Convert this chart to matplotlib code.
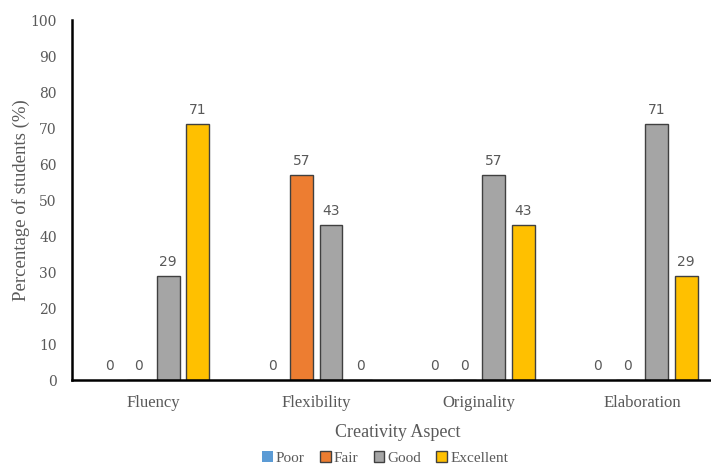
import matplotlib
matplotlib.use("Agg")
import matplotlib.pyplot as plt
import numpy as np

categories = ["Fluency", "Flexibility", "Originality", "Elaboration"]
series_names = ["Poor", "Fair", "Good", "Excellent"]
poor = [0, 0, 0, 0]
fair = [0, 57, 0, 0]
good = [29, 43, 57, 71]
excellent = [71, 0, 43, 29]
yticks = [0, 10, 20, 30, 40, 50, 60, 70, 80, 90, 100]

colors = ["#5B9BD5", "#ED7D31", "#A5A5A5", "#FFC000"]
edges = ["none", "#404040", "#404040", "#404040"]
txt = "#595959"

fig = plt.figure(figsize=(7.11, 4.66), dpi=100)
ax = fig.add_axes([72/711, 86/466, 651.4/711, 360/466])

x = np.arange(len(categories))
slot = 0.181
width = 0.141
for j, (name, vals) in enumerate(zip(series_names, [poor, fair, good, excellent])):
    pos = x + (j - 1.5) * slot
    ax.bar(pos, vals, width=width, color=colors[j],
           edgecolor=edges[j], linewidth=1.0, label=name, zorder=2)
    for p, v in zip(pos, vals):
        ax.annotate(f"{v}", (p, v), xytext=(0, 5), textcoords="offset points",
                    ha="center", va="bottom", fontsize=10, color=txt,
                    family="DejaVu Sans")

ax.set_xlim(-0.5, 3.5)
ax.set_ylim(0, 100)
ax.set_yticks(yticks)
ax.set_xticks(x)
ax.set_xticklabels(categories, family="Liberation Serif", fontsize=12, color=txt)
ax.tick_params(axis="both", length=0, colors=txt)
for lbl in ax.get_yticklabels():
    lbl.set_family("DejaVu Serif")
    lbl.set_fontsize(10)
    lbl.set_color(txt)
ax.tick_params(axis="y", pad=11)
ax.tick_params(axis="x", pad=11)

for s in ["top", "right"]:
    ax.spines[s].set_visible(False)
for s in ["left", "bottom"]:
    ax.spines[s].set_linewidth(1.8)
    ax.spines[s].set_color("black")

ax.set_ylabel("Percentage of students (%)", family="Liberation Serif",
              fontsize=13.5, color=txt, labelpad=0)
ax.set_xlabel("Creativity Aspect", family="Liberation Serif",
              fontsize=13, color=txt, labelpad=9)

leg = fig.legend(loc="center", bbox_to_anchor=(385/711, 1 - 458/466), ncol=4,
                 frameon=False, prop={"family": "Liberation Serif", "size": 11},
                 handlelength=0.7, handleheight=0.7, handletextpad=0.2,
                 columnspacing=1.0, borderaxespad=0)
for t in leg.get_texts():
    t.set_color(txt)

fig.savefig("out.png", dpi=100)
